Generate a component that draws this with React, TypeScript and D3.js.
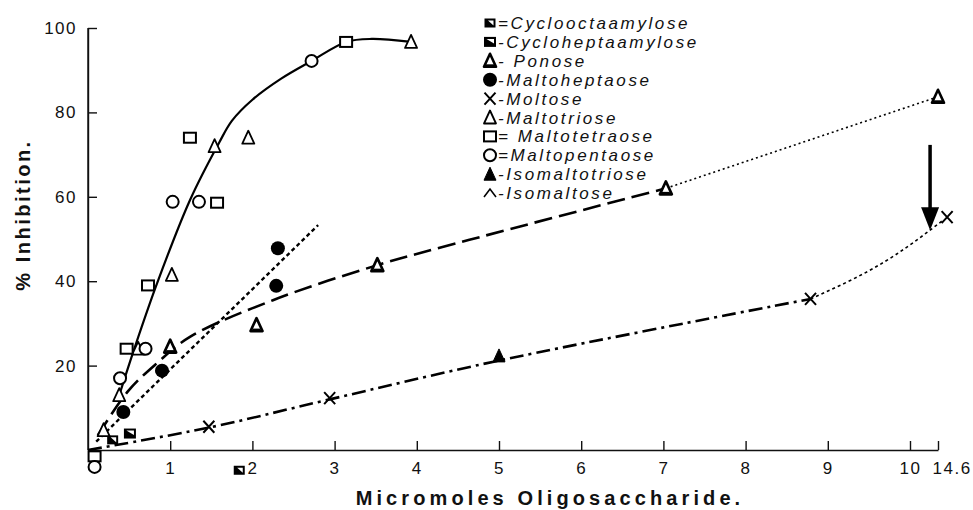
import React from "react";
import * as d3 from "d3";

type Pt = [number, number];

const width = 973;
const height = 510;

// readings: [micromoles oligosaccharide, % inhibition]
const cyclooctaamylose: Pt[] = [[0.3, 2.4], [1.84, -4.8]];
const cycloheptaamylose: Pt[] = [[0.51, 3.9]];
const ponose: Pt[] = [[1.0, 24.5], [2.05, 29.6], [3.52, 43.8], [7.03, 62], [14.6, 83.7]];
const maltoheptaose: Pt[] = [[0.43, 9], [0.9, 18.8], [2.29, 38.9], [2.31, 47.8]];
const maltose: Pt[] = [[1.47, 5.5], [2.94, 12.3], [8.79, 35.8], [16.1, 55.2]];
const maltotriose: Pt[] = [[0.19, 4.7], [0.38, 13], [0.61, 24], [1.02, 41.5], [1.54, 72], [1.95, 74], [3.93, 96.7]];
const maltotetraose: Pt[] = [[0.08, -1.5], [0.47, 24], [0.73, 39], [1.24, 74], [1.57, 58.6], [3.14, 96.7]];
const maltopentaose: Pt[] = [[0.08, -4], [0.39, 17], [0.7, 24], [1.03, 58.8], [1.35, 58.8], [2.72, 92.2]];
const isomaltotriose: Pt[] = [[5.0, 22.3]];

// hand drawn curves
const curveOligo: Pt[] = [[0.38, 13], [0.57, 24.4], [0.84, 39.5], [1.24, 59.2], [1.6, 73], [1.75, 78], [2.0, 83], [2.35, 88], [2.72, 92.2], [3.14, 96.7], [3.45, 97.4], [3.93, 96.7]];
const curveHeptaose: Pt[] = [[0.1, 2], [2.8, 53.3]];
const curvePonose: Pt[] = [[0.12, 3.5], [0.49, 14], [0.84, 20.6], [1.24, 26.8], [2.25, 35.5], [3.52, 43.8], [4.64, 49.8], [7.03, 62]];
const curvePonoseExt: Pt[] = [[7.03, 62], [14.6, 83.7]];
const curveMaltose: Pt[] = [[0, 0], [1.47, 5.3], [2.94, 12], [5.0, 21.2], [8.79, 35.8]];
const curveMaltoseExt: Pt[] = [[8.79, 35.8], [9.82, 46.2], [13.3, 52.1], [15.3, 54.3]];

// arrow marking the 14.6 value
const arrowX = 13.3;
const arrowY: Pt = [72.3, 52.1];

const xTicks = [1, 2, 3, 4, 5, 6, 7, 8, 9, 10, 14.6];
const yTicks = [20, 40, 60, 80, 100];

const legendNames = [
  "Cyclooctaamylose",
  "Cycloheptaamylose",
  "Ponose",
  "Maltoheptaose",
  "Moltose",
  "Maltotriose",
  "Maltotetraose",
  "Maltopentaose",
  "Isomaltotriose",
  "Isomaltose",
];
const legendSeps = ["=", "-", "- ", "-", "-", "-", "= ", "=", "-", "-"];
const legendKinds = ["cycloOcta", "cycloHepta", "ponose", "filledCircle", "cross", "openTriangle", "openSquare", "openCircle", "filledTriangle", "caret"];

const series: { kind: string; data: Pt[] }[] = [
  { kind: "cycloOcta", data: cyclooctaamylose },
  { kind: "cycloHepta", data: cycloheptaamylose },
  { kind: "ponose", data: ponose },
  { kind: "filledCircle", data: maltoheptaose },
  { kind: "cross", data: maltose },
  { kind: "openTriangle", data: maltotriose },
  { kind: "openSquare", data: maltotetraose },
  { kind: "openCircle", data: maltopentaose },
  { kind: "filledTriangle", data: isomaltotriose },
];

function Marker({ kind, cx, cy }: { kind: string; cx: number; cy: number }) {
  const t = `translate(${cx},${cy})`;
  const tri = "M0,-7L6,6L-6,6Z";
  switch (kind) {
    case "openCircle":
      return <circle transform={t} r={6} fill="#fff" stroke="#000" strokeWidth={2} />;
    case "filledCircle":
      return <circle transform={t} r={7} fill="#000" />;
    case "openSquare":
      return <rect transform={t} x={-6} y={-5} width={12} height={10} fill="#fff" stroke="#000" strokeWidth={2} />;
    case "openTriangle":
      return <path transform={t} d={tri} fill="#fff" stroke="#000" strokeWidth={1.8} strokeLinejoin="round" />;
    case "ponose":
      return (
        <g transform={t}>
          <path d={tri} fill="#fff" stroke="#000" strokeWidth={2.6} strokeLinejoin="round" />
          <path d="M-4,3.5h8v2h-8z" fill="#000" />
        </g>
      );
    case "filledTriangle":
      return <path transform={t} d={tri} fill="#000" stroke="#000" strokeWidth={1} />;
    case "cross":
      return <path transform={t} d="M-5.5,-6L5.5,6M5.5,-6L-5.5,6" stroke="#000" strokeWidth={2} fill="none" />;
    case "cycloOcta":
      return (
        <g transform={t}>
          <rect x={-5.5} y={-4.5} width={11} height={9} fill="#000" />
          <path d="M-2,-2.5L3.5,-2.5L3.5,2.5Z" fill="#fff" />
        </g>
      );
    case "cycloHepta":
      return (
        <g transform={t}>
          <rect x={-6} y={-5} width={12} height={10} fill="#000" />
          <path d="M-3.5,-3L4,-3L4,1.5Z" fill="#fff" />
        </g>
      );
    case "caret":
      return <path transform={t} d="M-6,4L0,-4L6,4" stroke="#000" strokeWidth={1.6} fill="none" />;
    default:
      return null;
  }
}

export default function App() {
  const x = d3.scaleLinear().domain([0, 10, 14.6]).range([88, 910, 938]);
  const y = d3.scaleLinear().domain([0, 100]).range([450, 28]);

  const line = d3
    .line<Pt>()
    .x((d) => x(d[0]))
    .y((d) => y(d[1]))
    .curve(d3.curveCatmullRom);
  const smooth = d3
    .line<Pt>()
    .x((d) => x(d[0]))
    .y((d) => y(d[1]))
    .curve(d3.curveMonotoneX);

  const styleAxis = (node: SVGGElement | null, axis: any) => {
    if (!node) return null;
    const g = d3.select(node);
    g.call(axis);
    g.attr("font-family", "'Liberation Sans', Arial, sans-serif").attr("font-size", 17);
    g.selectAll("text").attr("fill", "#111").style("letter-spacing", "1.5px");
    g.selectAll("line").attr("stroke", "#111").attr("stroke-width", 1.4);
    g.select(".domain").attr("stroke", "#111").attr("stroke-width", 1.4);
    return g;
  };

  const ax = x(arrowX);
  const aTop = y(arrowY[0]);
  const aTip = y(arrowY[1]);

  return (
    <svg
      width={width}
      height={height}
      style={{ position: "absolute", left: 0, top: 0, background: "#fff" }}
    >
      <g
        transform={`translate(0, ${y(0)})`}
        ref={(node) => {
          const g = styleAxis(
            node,
            d3
              .axisBottom(x)
              .tickValues(xTicks)
              .tickFormat((d: any) => String(d))
              .tickSize(-9)
              .tickSizeOuter(0)
              .tickPadding(12)
          );
          // the broken-axis label sits just right of its tick
          g?.selectAll<SVGTextElement, number>(".tick text")
            .filter((d) => d > 10)
            .attr("text-anchor", "start")
            .attr("x", -6);
        }}
      />
      <g
        transform={`translate(${x(0)}, 0)`}
        ref={(node) => {
          styleAxis(
            node,
            d3.axisLeft(y).tickValues(yTicks).tickSize(-9).tickSizeOuter(0).tickPadding(11)
          );
        }}
      />
      <line x1={x(0)} x2={x(0)} y1={y(100)} y2={y(0)} stroke="#111" strokeWidth={1.4} />

      <g fill="none" stroke="#000" strokeLinecap="butt">
        <path d={line(curveOligo) ?? ""} strokeWidth={2.2} />
        <path d={line(curveHeptaose) ?? ""} strokeWidth={2.4} strokeDasharray="4,3" />
        <path d={line(curvePonose) ?? ""} strokeWidth={2.6} strokeDasharray="18,7" />
        <path d={line(curvePonoseExt) ?? ""} strokeWidth={1.6} strokeDasharray="2,3" />
        <path d={line(curveMaltose) ?? ""} strokeWidth={2.6} strokeDasharray="14,5,3,5" />
        <path d={smooth(curveMaltoseExt) ?? ""} strokeWidth={1.6} strokeDasharray="3,3" />
      </g>

      <line x1={ax} x2={ax} y1={aTop} y2={aTip - 18} stroke="#000" strokeWidth={3.5} />
      <path d={`M${ax - 9},${aTip - 23}L${ax + 9},${aTip - 23}L${ax},${aTip}Z`} fill="#000" />

      {series.map((s) =>
        s.data.map((d, i) => <Marker key={s.kind + i} kind={s.kind} cx={x(d[0])} cy={y(d[1])} />)
      )}

      <g fontFamily="'Liberation Sans', Arial, sans-serif" fontStyle="italic" fontSize={17} fill="#111">
        {legendNames.map((name, i) => {
          const ly = 23 + i * 18.9;
          return (
            <g key={name}>
              <Marker kind={legendKinds[i]} cx={490} cy={ly} />
              <text x={498} y={ly + 6} style={{ letterSpacing: "2.6px" }}>
                {legendSeps[i] + name}
              </text>
            </g>
          );
        })}
      </g>

      <text
        x={550}
        y={505}
        textAnchor="middle"
        fontFamily="'Liberation Sans', Arial, sans-serif"
        fontWeight={900}
        fontSize={20}
        fill="#111"
        style={{ letterSpacing: "4.1px" }}
      >
        Micromoles Oligosaccharide.
      </text>
      <text
        transform={`translate(30, 215) rotate(-90)`}
        textAnchor="middle"
        fontFamily="'Liberation Sans', Arial, sans-serif"
        fontWeight={900}
        fontSize={20}
        fill="#111"
        style={{ letterSpacing: "2.5px" }}
      >
        % Inhibition.
      </text>
    </svg>
  );
}
